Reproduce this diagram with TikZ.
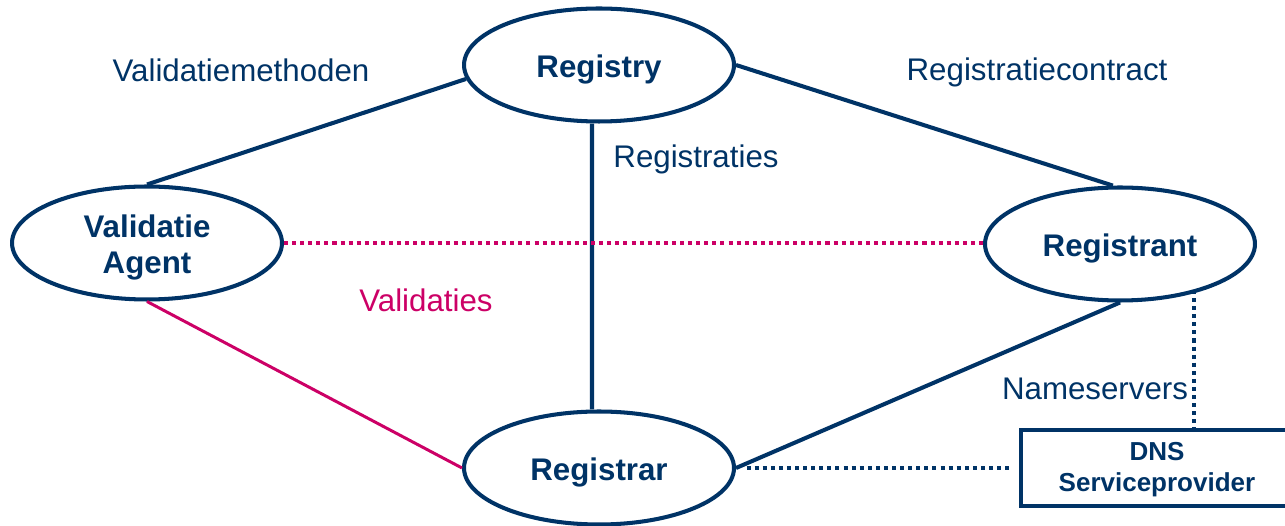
\documentclass[tikz,border=0pt]{standalone}
\usepackage{fontspec}
\setmainfont{Liberation Sans}
\usetikzlibrary{shapes.geometric}
\definecolor{sidnblue}{RGB}{0,51,102}
\definecolor{sidnpink}{RGB}{204,0,102}
\begin{document}
\begin{tikzpicture}[x=0.02cm, y=-0.02cm,
	party/.style={ellipse, draw=sidnblue, line width=2.3pt, inner sep=0pt,
		minimum width=5.4cm, minimum height=2.26cm, text=sidnblue, align=center,
		font=\fontsize{17.8}{21}\selectfont\bfseries},
	oneline/.style={text height=18.5pt, text depth=3.7pt},
	provider/.style={rectangle, draw=sidnblue, line width=2.3pt, inner sep=0pt,
		minimum width=5.44cm, minimum height=1.53cm, text=sidnblue, align=center,
		font=\fontsize{14.8}{17.6}\selectfont\bfseries},
	lbl/.style={anchor=base, text=sidnblue, font=\fontsize{17.8}{21}\selectfont},
	tie/.style={draw=sidnblue, line width=2.3pt},
	check/.style={draw=sidnpink, line width=1.7pt},
	dots/.style={line width=2.3pt, dash pattern=on 2.3pt off 2.3pt}]
	\useasboundingbox (0,0) rectangle (1285,526);
	\node (registry) at (599,65) [party, oneline] {Registry};
	\node (agent) at (147,243) [party] {\rule{0pt}{18pt}Validatie\\Agent};
	\node (registrant) at (1120,244) [party, oneline] {Registrant};
	\node (registrar) at (599,468) [party, oneline] {Registrar};
	\node (dns) at (1157,468) [provider] {\rule{0pt}{12pt}DNS\\Serviceprovider};
	\coordinate (ns) at (1194,290);
	\draw[tie] (registry.186) -- (agent.north)
		  (registry.east) -- (registrant.97)
		  ([xshift=-0.14cm]registry.south) -- ([xshift=-0.14cm]registrar.north)
		  (registrant.south) -- (registrar.east);
	\draw[check] (agent.south) -- (registrar.west);
	\draw[dots, draw=sidnpink] (agent.east) -- (agent.east -| registrant.west);
	\draw[dots, draw=sidnblue, shorten <=6pt, shorten >=4pt] (registrar.east) -- (dns.west);
	\draw[dots, draw=sidnblue] (ns) -- (ns |- dns.north);
	\node (methoden) at (241,82) [lbl] {Validatiemethoden};
	\node (contract) at (1037,81) [lbl] {Registratiecontract};
	\node (registraties) at (696,168) [lbl] {Registraties};
	\node (validaties) at (426,312) [lbl, text=sidnpink] {Validaties};
	\node (nameservers) at (1095,400) [lbl] {Nameservers};
\end{tikzpicture}
\end{document}
